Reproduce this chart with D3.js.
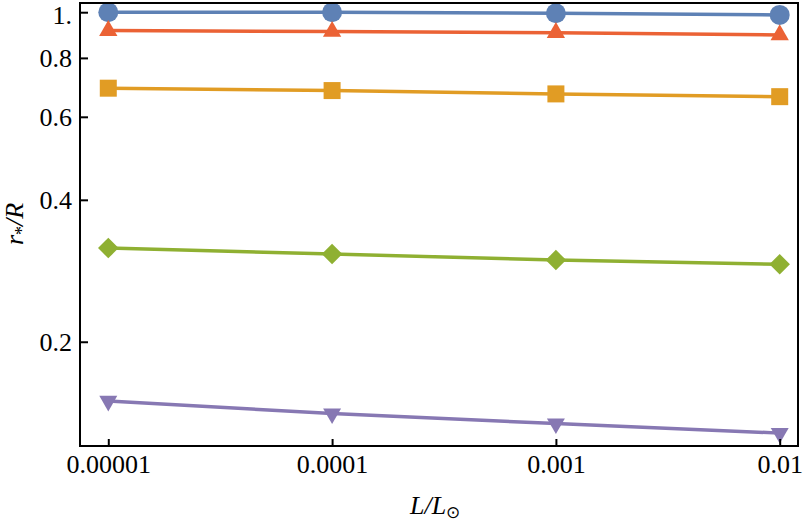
<!DOCTYPE html>
<html><head><meta charset="utf-8">
<script src="https://cdn.jsdelivr.net/npm/d3@7"></script>
<style>body{margin:0;background:#fff}svg{display:block}text{font-family:"Liberation Serif","Times New Roman",serif}</style>
</head><body>
<svg id="c" width="806" height="524"></svg>
<script>
const xValues = [1e-5, 1e-4, 1e-3, 1e-2];
const xTickLabels = ["0.00001", "0.0001", "0.001", "0.01"];
const yTicks = [0.2, 0.4, 0.6, 0.8, 1.0];
const yTickLabels = ["0.2", "0.4", "0.6", "0.8", "1."];
const seriesCircle = [1.000, 1.000, 0.995, 0.987];
const seriesTriangle = [0.914, 0.910, 0.905, 0.895];
const seriesSquare = [0.690, 0.682, 0.671, 0.662];
const seriesDiamond = [0.316, 0.307, 0.298, 0.292];
const seriesDown = [0.1497, 0.1408, 0.1341, 0.1280];

const series = [
  {vals: seriesCircle, color: "#5E81B5", shape: "circle"},
  {vals: seriesTriangle, color: "#EB6235", shape: "triangle"},
  {vals: seriesSquare, color: "#E19C24", shape: "square"},
  {vals: seriesDiamond, color: "#8FB032", shape: "diamond"},
  {vals: seriesDown, color: "#8778B3", shape: "down"}
];

const L = 80, R = 798, T = 3, B = 446;
const svg = d3.select("#c");
const x = d3.scaleLog().domain([1e-5 * Math.pow(10, -28.3/223.9), 1e-2 * Math.pow(10, 18.3/223.9)]).range([L, R]);
const y = d3.scaleLog().domain([0.1202, 1.046]).range([B, T]);

// lines
const line = d3.line().x((d,i)=>x(xValues[i])).y(d=>y(d));
series.forEach(s=>{
  svg.append("path").attr("d", line(s.vals)).attr("fill","none")
    .attr("stroke", s.color).attr("stroke-width", 3.5);
});
// markers
const sym = {
  circle: d3.symbol().type(d3.symbolCircle).size(Math.PI*10*10),
  triangle: d3.symbol().type(d3.symbolTriangle).size(145),
  square: d3.symbol().type(d3.symbolSquare).size(17*17),
  diamond: d3.symbol().type(d3.symbolSquare).size(14.5*14.5),
  down: d3.symbol().type(d3.symbolTriangle).size(140)
};
series.forEach(s=>{
  svg.append("g").selectAll("path").data(s.vals).join("path")
    .attr("d", sym[s.shape]())
    .attr("fill", s.color)
    .attr("transform", (d,i)=>{
      let t = `translate(${x(xValues[i])},${y(d)})`;
      if (s.shape==="diamond") t += " rotate(45)";
      if (s.shape==="down") t += " rotate(180)";
      return t;
    });
});

// frame
svg.append("rect").attr("x",L).attr("y",T).attr("width",R-L).attr("height",B-T)
  .attr("fill","none").attr("stroke","#000").attr("stroke-width",2);

// axes
const yAxis = d3.axisLeft(y).tickValues(yTicks).tickFormat((d,i)=>yTickLabels[i])
  .tickSizeInner(-8).tickSizeOuter(0).tickPadding(8);
const gy = svg.append("g").attr("transform",`translate(${L},0)`).call(yAxis);
gy.select(".domain").remove();
gy.selectAll("line").attr("stroke","#000").attr("stroke-width",2);
gy.selectAll("text").attr("font-size",26).attr("fill","#000").attr("font-family","Liberation Serif");
// keep the top label's box inside the picture
gy.selectAll("text").filter(d=>d===1.0).attr("dy","0.45em");

const xAxis = d3.axisBottom(x).tickValues(xValues).tickFormat((d,i)=>xTickLabels[i])
  .tickSizeInner(-7).tickSizeOuter(0).tickPadding(9);
const gx = svg.append("g").attr("transform",`translate(0,${B})`).call(xAxis);
gx.select(".domain").remove();
gx.selectAll("line").attr("stroke","#000").attr("stroke-width",2);
gx.selectAll("text").attr("font-size",26).attr("fill","#000").attr("font-family","Liberation Serif");

// axis labels
const xl = svg.append("text").attr("x",410).attr("y",514).attr("font-size",26).attr("fill","#000");
xl.append("tspan").attr("font-style","italic").text("L/L");
xl.append("tspan").attr("dy",4).attr("font-size",17).text("\u2299");

const yl = svg.append("text").attr("transform","translate(23,224) rotate(-90)")
  .attr("text-anchor","middle").attr("font-size",26).attr("fill","#000");
yl.append("tspan").attr("font-style","italic").text("r");
yl.append("tspan").attr("dy",5).attr("font-size",18).text("*");
yl.append("tspan").attr("dy",-5).attr("font-style","italic").text("/R");
</script>
</body></html>
